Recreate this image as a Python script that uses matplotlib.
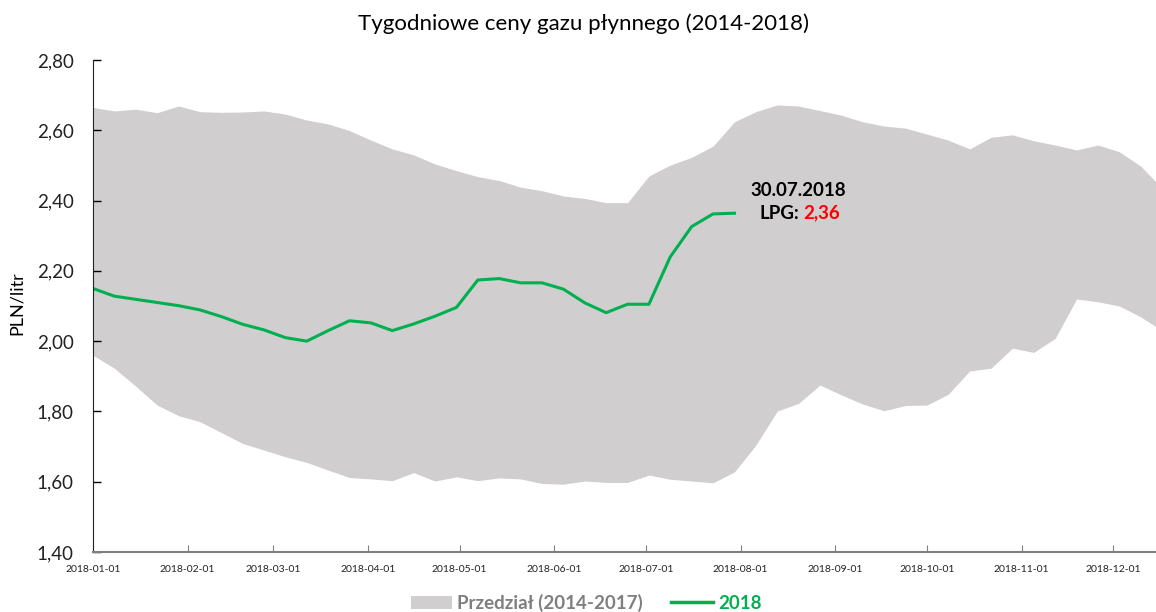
import matplotlib
matplotlib.use("Agg")
import matplotlib.pyplot as plt
import matplotlib.dates as mdates
from matplotlib.patches import Patch
from matplotlib.lines import Line2D
import pandas as pd

plt.rcParams["font.family"] = ["Lato", "DejaVu Sans"]

# weekly range 2014-2017 (upper / lower envelope)
band_upper = [2.665, 2.655, 2.660, 2.650, 2.669, 2.653, 2.651, 2.652, 2.655, 2.646,
              2.629, 2.618, 2.599, 2.572, 2.547, 2.530, 2.504, 2.485, 2.468, 2.457,
              2.438, 2.428, 2.413, 2.406, 2.394, 2.394, 2.470, 2.501, 2.523, 2.555,
              2.624, 2.653, 2.672, 2.669, 2.656, 2.643, 2.624, 2.612, 2.606, 2.589,
              2.572, 2.547, 2.580, 2.587, 2.570, 2.558, 2.544, 2.558, 2.539, 2.498,
              2.435]
band_lower = [1.960, 1.923, 1.872, 1.818, 1.788, 1.771, 1.740, 1.709, 1.690, 1.671,
              1.655, 1.633, 1.612, 1.608, 1.603, 1.626, 1.602, 1.614, 1.603, 1.611,
              1.608, 1.595, 1.593, 1.602, 1.598, 1.598, 1.619, 1.607, 1.602, 1.597,
              1.628, 1.704, 1.801, 1.823, 1.875, 1.847, 1.821, 1.802, 1.817, 1.818,
              1.849, 1.915, 1.923, 1.980, 1.968, 2.008, 2.120, 2.112, 2.100, 2.069,
              2.030]
# 2018 weekly LPG price
lpg_2018 = [2.150, 2.128, 2.119, 2.110, 2.101, 2.089, 2.070, 2.048, 2.032, 2.010,
            2.000, 2.030, 2.058, 2.052, 2.030, 2.049, 2.071, 2.096, 2.174, 2.178,
            2.166, 2.166, 2.148, 2.109, 2.081, 2.105, 2.105, 2.240, 2.326, 2.362,
            2.364]

band_dates = pd.date_range("2018-01-01", periods=len(band_upper), freq="7D")
lpg_dates = pd.date_range("2018-01-01", periods=len(lpg_2018), freq="7D")

BAND_COLOR = "#d0cecf"
GREEN = "#00b050"

fig = plt.figure(figsize=(11.56, 6.12), dpi=100)
ax = fig.add_axes([0.0804, 0.098, 0.9196, 0.804])

ax.fill_between(band_dates, band_lower, band_upper, color=BAND_COLOR, lw=0)
ax.plot(lpg_dates, lpg_2018, color=GREEN, lw=2.2)

ax.set_xlim(pd.Timestamp("2018-01-01"), pd.Timestamp("2018-12-15"))
ax.set_ylim(1.40, 2.80)
ax.set_yticks([1.40, 1.60, 1.80, 2.00, 2.20, 2.40, 2.60, 2.80])
ax.set_yticklabels([f"{v:.2f}".replace(".", ",") for v in ax.get_yticks()],
                   fontsize=13.5, color="#222222")
ax.xaxis.set_major_locator(mdates.MonthLocator())
ax.xaxis.set_major_formatter(mdates.DateFormatter("%Y-%m-%d"))
ax.tick_params(axis="x", direction="in", length=5, labelsize=7.5, pad=9,
               colors="#808080", labelcolor="#222222")
ax.tick_params(axis="y", direction="in", length=6, pad=14, width=1)

for s in ["top", "right"]:
    ax.spines[s].set_visible(False)
ax.spines["bottom"].set_color("#808080")
ax.spines["bottom"].set_linewidth(1.5)
ax.spines["left"].set_color("#222222")

ax.set_ylabel("PLN/litr", fontsize=13)
ax.yaxis.set_label_coords(-0.064, 0.505)
fig.suptitle("Tygodniowe ceny gazu płynnego (2014-2018)", fontsize=16,
             x=0.505, y=0.978)

# annotation of the last point
last = (lpg_dates[-1], lpg_2018[-1])
ax.annotate("30.07.2018", xy=last, xytext=(64, 23), textcoords="offset pixels",
            ha="center", va="center", fontsize=13.5, fontweight="bold")
ax.annotate("LPG:", xy=last, xytext=(65, 0), textcoords="offset pixels",
            ha="right", va="center", fontsize=13.5, fontweight="bold")
ax.annotate("2,36", xy=last, xytext=(69, 0), textcoords="offset pixels",
            ha="left", va="center", fontsize=13.5, fontweight="bold", color="red")

handles = [Patch(facecolor=BAND_COLOR, edgecolor="none"),
           Line2D([0], [0], color=GREEN, lw=2.5)]
leg = fig.legend(handles, ["Przedział (2014-2017)", "2018"], loc="center",
                 bbox_to_anchor=(0.507, 0.015), ncol=2, frameon=False,
                 prop={"size": 13.5, "weight": "bold"}, handlelength=2.2,
                 handletextpad=0.3, columnspacing=1.5)
leg.get_texts()[0].set_color("#7f7f7f")
leg.get_texts()[1].set_color(GREEN)

fig.savefig("out.png", dpi=100)
